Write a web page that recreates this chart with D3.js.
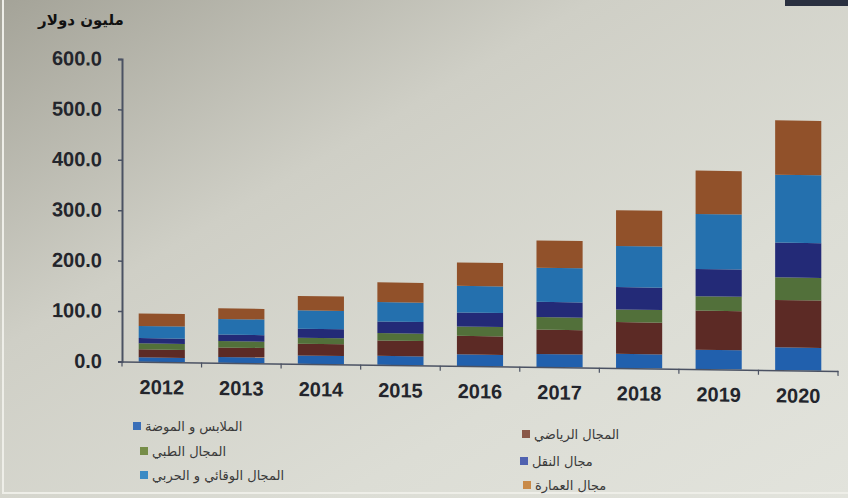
<!DOCTYPE html>
<html>
<head>
<meta charset="utf-8">
<script src="https://cdn.jsdelivr.net/npm/d3@7"></script>
<style>
  html, body { margin: 0; padding: 0; background: #d6d6cd; }
  svg { display: block; }
</style>
</head>
<body>
<svg id="chart" width="848" height="498"></svg>
<script>
// ---- data ----
const years = ["2012", "2013", "2014", "2015", "2016", "2017", "2018", "2019", "2020"];
const seriesNames = [
  "الملابس و الموضة",
  "المجال الرياضي",
  "المجال الطبي",
  "مجال النقل",
  "المجال الوقائي و الحربي",
  "مجال العمارة"
];
const fashion    = [8.7, 11.5, 16.5, 17.9, 23.0, 25.8, 28.0, 38.4, 45.0];
const sports     = [15.9, 19.0, 23.3, 30.4, 36.6, 48.3, 63.0, 77.5, 94.0];
const medical    = [11.9, 12.5, 11.9, 14.7, 18.5, 24.7, 25.0, 28.6, 45.0];
const transport  = [10.5, 13.0, 17.9, 23.0, 27.8, 30.4, 44.5, 54.0, 68.8];
const protective = [23.9, 31.0, 36.4, 38.6, 53.0, 67.6, 81.5, 109.0, 134.6];
const architect  = [24.7, 21.0, 28.6, 39.0, 46.3, 54.0, 70.8, 86.0, 108.0];
const yTicks = [0, 100, 200, 300, 400, 500, 600];
const axisTitle = "مليون دولار";

// ---- styles ----
const colors = ["#2160ad", "#5c2a25", "#52703a", "#232a77", "#2470ae", "#91512a"];
const legendColors = ["#3a6fb8", "#8a5848", "#768d48", "#5062b0", "#3a8ac4", "#c98a48"];

const svg = d3.select("#chart");
const W = 848, H = 498;

// background (photo-like gradient)
const defs = svg.append("defs");
const grad = defs.append("linearGradient").attr("id", "bg")
  .attr("x1", 0).attr("y1", 0).attr("x2", 1).attr("y2", 1);
grad.append("stop").attr("offset", 0).attr("stop-color", "#a4a398");
grad.append("stop").attr("offset", 0.35).attr("stop-color", "#cfcfc6");
grad.append("stop").attr("offset", 0.7).attr("stop-color", "#dcddd5");
grad.append("stop").attr("offset", 1).attr("stop-color", "#e2e3dc");
svg.append("rect").attr("width", W).attr("height", H).attr("fill", "url(#bg)");
// frame remnants
svg.append("rect").attr("x", 2).attr("y", 0).attr("width", 2).attr("height", 494).attr("fill", "#eeeee8");
svg.append("rect").attr("x", 2).attr("y", 492).attr("width", W).attr("height", 2).attr("fill", "#eeeee8");
svg.append("rect").attr("x", 785).attr("y", 0).attr("width", 63).attr("height", 6).attr("fill", "#2a3040");

const x0 = 122, x1 = 838;
const x = d3.scaleBand().domain(years).range([x0, x1]).paddingInner(0.42).paddingOuter(0.21);
const y = d3.scaleLinear().domain([0, 600]).range([361.5, 59]);

const table = years.map((yr, i) => ({
  year: yr,
  s0: fashion[i], s1: sports[i], s2: medical[i], s3: transport[i], s4: protective[i], s5: architect[i]
}));
const keys = ["s0", "s1", "s2", "s3", "s4", "s5"];
const stacked = d3.stack().keys(keys)(table);

// chart group with slight skew to mimic the photo
const g = svg.append("g")
  .attr("transform", `translate(${x0},0) skewY(0.75) translate(${-x0},0)`);

// bars
g.selectAll("g.series").data(stacked).join("g")
  .attr("class", "series")
  .attr("fill", (d, i) => colors[i])
  .selectAll("rect").data(d => d).join("rect")
  .attr("x", d => x(d.data.year))
  .attr("width", x.bandwidth())
  .attr("y", d => y(d[1]))
  .attr("height", d => y(d[0]) - y(d[1]));

// y axis
const yAxis = d3.axisLeft(y).tickValues(yTicks).tickFormat(d3.format(".1f")).tickSize(4).tickPadding(16);
const ya = g.append("g").attr("transform", `translate(${x0},0)`).call(yAxis);
ya.select(".domain").attr("stroke", "#4b5263").attr("stroke-width", 2);
ya.selectAll(".tick line").attr("stroke", "#4b5263").attr("stroke-width", 1.5);
ya.selectAll(".tick text")
  .attr("fill", "#23252c")
  .style("font-family", "'Liberation Sans', Arial, sans-serif")
  .style("font-weight", "bold")
  .style("font-size", "20px");

// x axis
const xAxis = d3.axisBottom(x).tickSize(0).tickPadding(18);
const xa = g.append("g").attr("transform", `translate(0,${y(0)})`).call(xAxis);
xa.select(".domain").attr("stroke", "#4b5263").attr("stroke-width", 1.5);
xa.selectAll(".tick text")
  .attr("fill", "#23252c")
  .style("font-family", "'Liberation Sans', Arial, sans-serif")
  .style("font-weight", "bold")
  .style("font-size", "20px");
// separator ticks between categories
const step = x.step();
xa.selectAll("line.sep").data(d3.range(years.length + 1)).join("line")
  .attr("class", "sep")
  .attr("x1", i => x0 + i * step).attr("x2", i => x0 + i * step)
  .attr("y1", 0).attr("y2", 5)
  .attr("stroke", "#4b5263").attr("stroke-width", 1.2);

// axis title
svg.append("text")
  .attr("x", 81).attr("y", 25)
  .attr("text-anchor", "middle")
  .attr("fill", "#111")
  .style("font-family", "'DejaVu Sans', sans-serif")
  .style("font-weight", "bold")
  .style("font-size", "15px")
  .text(axisTitle);

// legend (two columns: series 1,3,5 left; 2,4,6 right)
const legendPos = [
  [133, 426], [522, 434],
  [140, 451], [520, 461],
  [140, 475], [523, 485]
];
const lg = svg.append("g").selectAll("g").data(seriesNames).join("g")
  .attr("transform", (d, i) => `translate(${legendPos[i][0]},${legendPos[i][1]})`);
lg.append("rect")
  .attr("x", 0).attr("y", -4).attr("width", 8).attr("height", 8)
  .attr("fill", (d, i) => legendColors[i]);
lg.append("text")
  .attr("x", 12).attr("y", 0).attr("dy", "0.35em")
  .attr("fill", "#3a3a3a")
  .style("font-family", "'DejaVu Sans', sans-serif")
  .style("font-size", "13px")
  .text(d => d);
</script>
</body>
</html>
